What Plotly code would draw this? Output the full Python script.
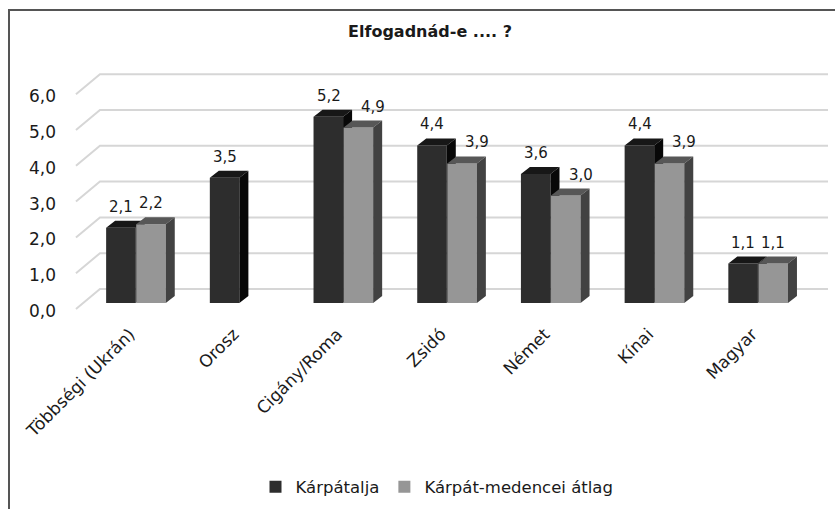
import plotly.graph_objects as go

# --- data -------------------------------------------------------------
categories = ["Többségi (Ukrán)", "Orosz", "Cigány/Roma", "Zsidó", "Német", "Kínai", "Magyar"]
karpatalja = [2.1, 3.5, 5.2, 4.4, 3.6, 4.4, 1.1]
medence_atlag = [2.2, None, 4.9, 3.9, 3.0, 3.9, 1.1]
series_names = ["Kárpátalja", "Kárpát-medencei átlag"]
y_ticks = [0, 1, 2, 3, 4, 5, 6]
title_text = "Elfogadnád-e .... ?"

# --- page geometry (pixels) --------------------------------------------
W, H = 835, 509
M_L, M_R, M_T, M_B = 70, 5, 60, 189
PLOT_W = W - M_L - M_R
PLOT_H = H - M_T - M_B
CAT0_PX = 136.0      # pixel position of the first category
CAT_STEP = 103.7     # pixels per category
ZERO_PX = 303.0      # pixel row of value 0 on the bar front plane
UNIT_PX = 35.8       # pixels per value unit

x_lo = (M_L - CAT0_PX) / CAT_STEP
x_hi = (W - M_R - CAT0_PX) / CAT_STEP
y_lo = (ZERO_PX - (M_T + PLOT_H)) / UNIT_PX
y_hi = (ZERO_PX - M_T) / UNIT_PX

def px_x(p):
    return p / CAT_STEP

def px_y(p):
    return p / UNIT_PX

# pseudo-3D depth offsets
BAR_W = 0.285                       # bar width in category units
BAR_DX, BAR_DY = px_x(9), px_y(7)   # depth of a column
WALL_DX, WALL_DY = px_x(17), px_y(14)   # back wall behind the bar fronts
FRONT_DX, FRONT_DY = px_x(-7), px_y(-6)  # floor front edge before the bar fronts
n = len(categories)
x_left_front = -0.5 - 0.079
x_right_back = (828 - CAT0_PX) / CAT_STEP

FONT = "DejaVu Sans, Verdana, sans-serif"
TXT = "#1a1a1a"

colors = {
    "dark": dict(front="#2d2d2d", top="#171717", side="#080808"),
    "grey": dict(front="#969696", top="#575757", side="#424242"),
}

fig = go.Figure()

# gridlines: slanted side wall segment + back wall line
gx, gy = [], []
for v in y_ticks:
    gx += [x_left_front, x_left_front + (WALL_DX - FRONT_DX), x_right_back, None]
    gy += [v + FRONT_DY, v + WALL_DY, v + WALL_DY, None]
fig.add_trace(go.Scatter(x=gx, y=gy, mode="lines", line=dict(color="#d6d6d6", width=2),
                         hoverinfo="skip", showlegend=False, zorder=-1))


def add_series(values, name, offset, pal, z):
    xs = list(range(n))
    fig.add_trace(go.Bar(x=xs, y=values, width=BAR_W, offset=offset, name=name,
                         marker=dict(color=pal["front"], line=dict(width=0)),
                         showlegend=True, zorder=z))
    tx, ty, sx, sy = [], [], [], []
    for i, v in enumerate(values):
        if v is None:
            continue
        x0 = i + offset
        x1 = x0 + BAR_W
        tx += [x0, x1, x1 + BAR_DX, x0 + BAR_DX, x0, None]
        ty += [v, v, v + BAR_DY, v + BAR_DY, v, None]
        sx += [x1, x1, x1 + BAR_DX, x1 + BAR_DX, x1, None]
        sy += [0, v, v + BAR_DY, BAR_DY, 0, None]
    fig.add_trace(go.Scatter(x=tx, y=ty, mode="lines", fill="toself", fillcolor=pal["top"],
                             line=dict(width=0, color=pal["top"]), hoverinfo="skip",
                             showlegend=False, zorder=z + 1))
    fig.add_trace(go.Scatter(x=sx, y=sy, mode="lines", fill="toself", fillcolor=pal["side"],
                             line=dict(width=0, color=pal["side"]), hoverinfo="skip",
                             showlegend=False, zorder=z + 1))


add_series(karpatalja, series_names[0], -BAR_W - 0.003, colors["dark"], 0)
add_series(medence_atlag, series_names[1], 0.002, colors["grey"], 2)

fmt = lambda v: f"{v:.1f}".replace(".", ",")
LABEL_FONT = dict(family=FONT, size=15, color=TXT)
annotations = []
for i in range(n):
    d, g = karpatalja[i], medence_atlag[i]
    annotations.append(dict(x=i - BAR_W / 2, y=d + BAR_DY, xref="x", yref="y", text=fmt(d),
                            showarrow=False, yanchor="bottom", yshift=3, font=LABEL_FONT))
    if g is not None:
        shift = 15 if g < d else 0
        annotations.append(dict(x=i + BAR_W / 2, y=g + BAR_DY, xref="x", yref="y", text=fmt(g),
                                showarrow=False, yanchor="bottom", yshift=3, xshift=shift,
                                font=LABEL_FONT))

# value-axis labels along the front edge
for v in y_ticks:
    annotations.append(dict(x=x_lo, y=v + FRONT_DY, xref="x", yref="y", text=fmt(v),
                            showarrow=False, xanchor="right", xshift=-12, yshift=-2,
                            font=dict(family=FONT, size=17, color=TXT)))

# outer chart frame
def paper_x(p):
    return (p - M_L) / PLOT_W

def paper_y(p):
    return (M_T + PLOT_H - p) / PLOT_H

shapes = [dict(type="rect", xref="paper", yref="paper",
               x0=paper_x(9), x1=paper_x(W + 20), y0=paper_y(H + 20), y1=paper_y(10),
               line=dict(color="#555555", width=2), fillcolor="rgba(0,0,0,0)", layer="below")]

fig.update_layout(
    width=W, height=H,
    margin=dict(l=M_L, r=M_R, t=M_T, b=M_B),
    paper_bgcolor="white", plot_bgcolor="white",
    barmode="overlay",
    title=dict(text="<b>" + title_text + "</b>", x=430 / W, xanchor="center",
               y=1 - 31 / H, yanchor="middle",
               font=dict(family=FONT, size=16, color=TXT)),
    xaxis=dict(range=[x_lo, x_hi], tickvals=list(range(n)), ticktext=categories,
               tickangle=-45, showgrid=False, zeroline=False, showline=False, ticks="",
               ticklabelshift=-6,
               tickfont=dict(family=FONT, size=17, color=TXT),
               fixedrange=True),
    yaxis=dict(range=[y_lo, y_hi], showgrid=False, zeroline=False, showline=False,
               showticklabels=False, ticks="", fixedrange=True),
    legend=dict(orientation="h", x=paper_x(437), xanchor="center", y=paper_y(487),
                yanchor="middle", font=dict(family=FONT, size=16.5, color=TXT),
                itemwidth=30, traceorder="normal"),
    annotations=annotations,
    shapes=shapes,
    showlegend=True,
)

fig.write_html("out.html")
